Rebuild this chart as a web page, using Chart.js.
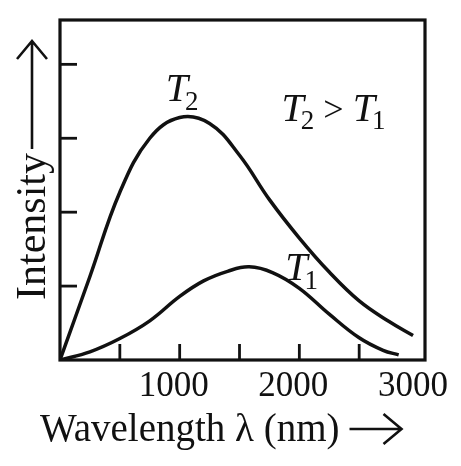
<!DOCTYPE html>
<html>
<head>
<meta charset="utf-8">
<script src="https://cdn.jsdelivr.net/npm/chart.js@4.4.1/dist/chart.umd.min.js"></script>
<style>
  html, body { margin: 0; padding: 0; background: #fff; }
  #wrap { width: 461px; height: 466px; }
</style>
</head>
<body>
<div id="wrap"><canvas id="myChart"></canvas></div>
<script>
// wavelength (nm) and intensity (arb. units)
const wavelengthT2 = [0, 250, 500, 750, 1000, 1250, 1500, 1750, 2000, 2250, 2500, 2750, 2950];
const intensityT2  = [0, 1.13, 2.27, 3.00, 3.28, 3.20, 2.77, 2.17, 1.65, 1.19, 0.80, 0.52, 0.33];
const wavelengthT1 = [0, 250, 500, 750, 1000, 1200, 1400, 1580, 1780, 2000, 2250, 2500, 2700, 2830];
const intensityT1  = [0, 0.11, 0.29, 0.53, 0.86, 1.07, 1.20, 1.26, 1.18, 0.97, 0.62, 0.30, 0.13, 0.07];

const xTickMarks = [500, 1000, 1500, 2000, 2500];
const xTickLabels = [1000, 2000, 3000];
const yTickMarks = [1, 2, 3, 4];

// label anchors in data units
const labelT2 = {x: 1000, y: 3.5};
const labelT1 = {x: 2000, y: 1.08};
const labelCompare = {x: 2370, y: 3.24};

const serif = '"Liberation Serif", "DejaVu Serif", serif';

function toPoints(xs, ys) {
	return xs.map(function(x, i) { return {x: x, y: ys[i]}; });
}

function drawT(ctx, x, y, sub, size) {
	ctx.font = 'italic ' + size + 'px ' + serif;
	ctx.fillText('T', x, y);
	let w = ctx.measureText('T').width;
	ctx.font = Math.round(size * 0.68) + 'px ' + serif;
	ctx.fillText(sub, x + w - 3, y + size * 0.22);
	return w - 3 + ctx.measureText(sub).width;
}

// long open arrow along +x of the current transform
function drawArrow(ctx, x0, y0, len) {
	ctx.beginPath();
	ctx.moveTo(x0, y0);
	ctx.lineTo(x0 + len, y0);
	ctx.moveTo(x0 + len - 18, y0 - 15);
	ctx.lineTo(x0 + len, y0);
	ctx.lineTo(x0 + len - 18, y0 + 15);
	ctx.stroke();
}

const boxAndTicks = {
	id: 'boxAndTicks',
	afterDraw(chart) {
		const ctx = chart.ctx;
		const a = chart.chartArea;
		const xs = chart.scales.x;
		const ys = chart.scales.y;
		ctx.save();
		ctx.strokeStyle = '#111';
		ctx.lineWidth = 3.2;
		ctx.strokeRect(a.left, a.top, a.right - a.left, a.bottom - a.top);
		ctx.lineWidth = 2.8;
		xTickMarks.forEach(function(v) {
			let px = xs.getPixelForValue(v);
			ctx.beginPath();
			ctx.moveTo(px, a.bottom);
			ctx.lineTo(px, a.bottom - 16);
			ctx.stroke();
		});
		yTickMarks.forEach(function(v) {
			let py = ys.getPixelForValue(v);
			ctx.beginPath();
			ctx.moveTo(a.left, py);
			ctx.lineTo(a.left + 17, py);
			ctx.stroke();
		});

		ctx.fillStyle = '#111';
		ctx.textBaseline = 'alphabetic';
		ctx.textAlign = 'left';
		drawT(ctx, xs.getPixelForValue(labelT2.x) - 14, ys.getPixelForValue(labelT2.y), '2', 40);
		drawT(ctx, xs.getPixelForValue(labelT1.x) - 14, ys.getPixelForValue(labelT1.y), '1', 40);

		let cx = xs.getPixelForValue(labelCompare.x) - 62;
		let cy = ys.getPixelForValue(labelCompare.y);
		cx += drawT(ctx, cx, cy, '2', 40);
		ctx.font = '36px ' + serif;
		ctx.fillText(' > ', cx, cy);
		cx += ctx.measureText(' > ').width;
		drawT(ctx, cx, cy, '1', 40);

		// axis titles with long arrows
		ctx.lineWidth = 2.6;
		ctx.font = '39px ' + serif;
		ctx.fillText('Wavelength λ (nm)', a.left - 20, 441);
		let tw = ctx.measureText('Wavelength λ (nm)').width;
		drawArrow(ctx, a.left - 20 + tw + 10, 429, 52);

		ctx.translate(45, 300);
		ctx.rotate(-Math.PI / 2);
		ctx.font = '42px ' + serif;
		ctx.fillText('Intensity', 0, 0);
		tw = ctx.measureText('Intensity').width;
		drawArrow(ctx, tw + 4, -13, 108);
		ctx.restore();
	}
};

let chart = new Chart('myChart', {
	type: 'line',
	data: {
		datasets: [{
			label: 'T2',
			data: toPoints(wavelengthT2, intensityT2),
			borderColor: '#111',
			borderWidth: 3.5,
			fill: false,
			tension: 0.4
		}, {
			label: 'T1',
			data: toPoints(wavelengthT1, intensityT1),
			borderColor: '#111',
			borderWidth: 3.5,
			fill: false,
			tension: 0.4
		}]
	},
	plugins: [boxAndTicks],
	options: {
		responsive: true,
		maintainAspectRatio: false,
		animation: false,
		layout: {
			padding: {top: 20, right: 36, left: 60, bottom: 52}
		},
		scales: {
			x: {
				type: 'linear',
				min: 0,
				max: 3050,
				afterBuildTicks: function(axis) {
					axis.ticks = xTickLabels.map(function(v) { return {value: v}; });
				},
				grid: {display: false, drawTicks: false},
				border: {display: false},
				ticks: {
					autoSkip: false,
					maxRotation: 0,
					padding: 6,
					labelOffset: -6,
					color: '#111',
					font: {family: serif, size: 35},
					callback: function(v) { return String(v); }
				}
			},
			y: {
				min: 0,
				max: 4.6,
				grid: {display: false, drawTicks: false},
				border: {display: false},
				ticks: {display: false}
			}
		},
		plugins: {
			legend: {display: false},
			tooltip: {enabled: false}
		},
		elements: {
			point: {pointStyle: false}
		}
	}
});
</script>
</body>
</html>
